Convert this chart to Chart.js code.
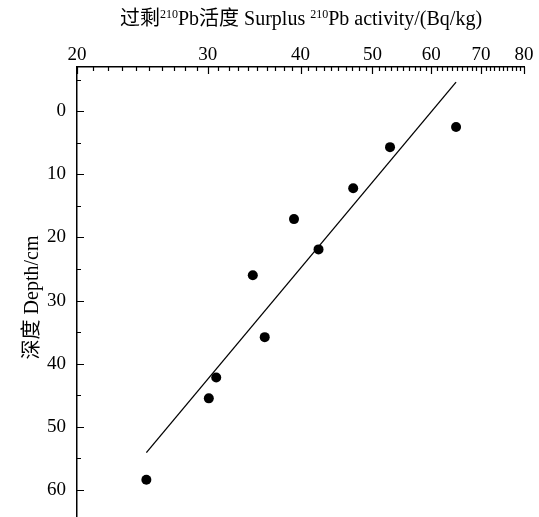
<!DOCTYPE html>
<html>
<head>
<meta charset="utf-8">
<script src="https://cdn.jsdelivr.net/npm/chart.js@4.4.0/dist/chart.umd.min.js"></script>
<style>
  html, body { margin: 0; padding: 0; background: #fff; }
</style>
</head>
<body>
<canvas id="profileChart" width="539" height="517"></canvas>
<script>
// excess 210Pb activity (Bq/kg) measured down the core, depth in cm
const activity = [64.8, 52.8, 47.1, 39.2, 42.3, 34.5, 35.8, 30.8, 30.1, 24.8];
const depth = [2.5, 5.7, 12.2, 17.1, 21.9, 26.0, 35.8, 42.2, 45.5, 58.4];

// end points of the fitted trend line
const fitActivity = [24.8, 64.8];
const fitDepth = [54.1, -4.6];

const activityTicks = [20, 30, 40, 50, 60, 70, 80];
const depthTicks = [0, 10, 20, 30, 40, 50, 60];

const serif = "'Liberation Serif', 'Times New Roman', 'Noto Sans CJK SC', serif";

// pieces of the top title, superscripts flagged
const titleParts = [
    { text: '过剩', sup: false },
    { text: '210', sup: true },
    { text: 'Pb活度 Surplus ', sup: false },
    { text: '210', sup: true },
    { text: 'Pb activity/(Bq/kg)', sup: false }
];
const depthTitle = '深度 Depth/cm';

// tick marks pointing into the plot, plus both axis titles
const axisDecor = {
    id: 'axisDecor',
    afterDraw: function(chart) {
        const ctx = chart.ctx;
        const xs = chart.scales.x;
        const ys = chart.scales.y;
        const area = chart.chartArea;

        ctx.save();
        ctx.strokeStyle = '#000';
        ctx.lineWidth = 1.2;
        ctx.beginPath();
        for (let v = 20; v <= 80; v++) {
            const len = activityTicks.indexOf(v) >= 0 ? 7 : 4;
            const px = Math.round(xs.getPixelForValue(v)) + 0.5;
            ctx.moveTo(px, area.top);
            ctx.lineTo(px, area.top + len);
        }
        for (let v = -5; v <= 60; v += 5) {
            const len = v % 10 === 0 ? 7 : 4;
            const py = Math.round(ys.getPixelForValue(v)) + 0.5;
            ctx.moveTo(area.left, py);
            ctx.lineTo(area.left + len, py);
        }
        ctx.stroke();

        // top title with superscript mass numbers
        ctx.fillStyle = '#000';
        ctx.textBaseline = 'alphabetic';
        ctx.textAlign = 'left';
        const mainFont = '20px ' + serif;
        const supFont = '12px ' + serif;
        let total = 0;
        titleParts.forEach(function(p) {
            ctx.font = p.sup ? supFont : mainFont;
            p.w = ctx.measureText(p.text).width;
            total += p.w;
        });
        let x = 301 - total / 2;
        titleParts.forEach(function(p) {
            ctx.font = p.sup ? supFont : mainFont;
            ctx.fillText(p.text, x, p.sup ? 18 : 25);
            x += p.w;
        });

        // rotated depth title
        ctx.font = mainFont;
        ctx.translate(38, 297.5);
        ctx.rotate(-Math.PI / 2);
        ctx.textAlign = 'center';
        ctx.fillText(depthTitle, 0, 0);
        ctx.restore();
    }
};

const ctx = document.getElementById('profileChart').getContext('2d');
new Chart(ctx, {
    type: 'scatter',
    data: {
        datasets: [
            {
                label: 'fit',
                data: fitActivity.map(function(v, i) { return { x: v, y: fitDepth[i] }; }),
                showLine: true,
                borderColor: '#000',
                borderWidth: 1.3,
                pointRadius: 0,
                fill: false
            },
            {
                label: 'samples',
                data: activity.map(function(v, i) { return { x: v, y: depth[i] }; }),
                backgroundColor: '#000',
                borderColor: '#000',
                borderWidth: 0,
                pointRadius: 5
            }
        ]
    },
    options: {
        responsive: false,
        animation: false,
        layout: {
            autoPadding: false,
            padding: { top: 0, left: 0, right: 15, bottom: 0 }
        },
        plugins: {
            legend: { display: false },
            tooltip: { enabled: false }
        },
        scales: {
            x: {
                type: 'logarithmic',
                position: 'top',
                min: 20,
                max: 80,
                afterBuildTicks: function(scale) {
                    scale.ticks = activityTicks.map(function(v) { return { value: v }; });
                },
                afterFit: function(scale) {
                    scale.height = 67;
                    scale.paddingLeft = 0;
                    scale.paddingRight = 0;
                },
                ticks: {
                    autoSkip: false,
                    maxRotation: 0,
                    padding: 1,
                    color: '#000',
                    font: { family: serif, size: 19 },
                    callback: function(v) { return String(v); }
                },
                grid: { display: false, drawTicks: false },
                border: { display: true, color: '#000', width: 1.5 }
            },
            y: {
                type: 'linear',
                reverse: true,
                min: -7,
                max: 64.3,
                afterBuildTicks: function(scale) {
                    scale.ticks = depthTicks.map(function(v) { return { value: v }; });
                },
                afterFit: function(scale) {
                    scale.width = 77;
                    scale.paddingTop = 0;
                    scale.paddingBottom = 0;
                },
                ticks: {
                    padding: 11,
                    color: '#000',
                    font: { family: serif, size: 19 },
                    callback: function(v) { return String(v); }
                },
                grid: { display: false, drawTicks: false },
                border: { display: true, color: '#000', width: 1.5 }
            }
        }
    },
    plugins: [axisDecor]
});
</script>
</body>
</html>
